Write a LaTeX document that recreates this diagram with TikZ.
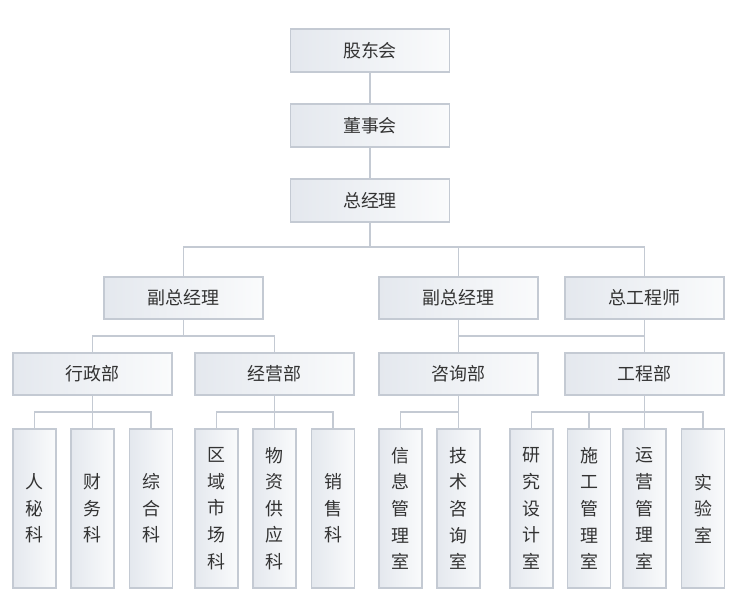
\documentclass[tikz,border=0pt]{standalone}
\usepackage{fontspec}
\newfontfamily\cjk{Noto Sans CJK SC}
\definecolor{boxL}{HTML}{E4E8EE}
\definecolor{boxR}{HTML}{FAFBFC}
\definecolor{edge}{HTML}{C4CAD3}
\definecolor{txt}{HTML}{333333}
\tikzset{
  base/.style={draw=edge, line width=1.2bp, inner sep=0pt, text=txt, left color=boxL, right color=boxR, align=center},
  hbox/.style={base, minimum width=159bp, minimum height=42bp, font=\cjk\fontsize{18}{20}\selectfont},
  vbox/.style={base, minimum width=43bp, minimum height=159bp, font=\cjk\fontsize{18}{26.7}\selectfont},
  conn/.style={draw=edge, line width=1.2bp}
}
\begin{document}
\begin{tikzpicture}[x=1bp,y=-1bp]
\useasboundingbox (0,0) rectangle (741,612);
\fill[white] (0,0) rectangle (741,612);
% level 0-1
\node[hbox, minimum height=43bp] (gd) at (370,50.5) {股东会};
\node[hbox, minimum height=43bp] (ds) at (370,125.5) {董事会};
\node[hbox, minimum height=43bp] (zj) at (370,200.5) {总经理};
% level 2
\node[hbox] (vp1) at (183.5,298) {副总经理};
\node[hbox] (vp2) at (458.5,298) {副总经理};
\node[hbox] (ce) at (644.5,298) {总工程师};
% level 3
\node[hbox] (xz) at (92.5,374) {行政部};
\node[hbox] (jy) at (274.5,374) {经营部};
\node[hbox] (zx) at (458.5,374) {咨询部};
\node[hbox] (gc) at (644.5,374) {工程部};
% level 4
\node[vbox] (rm) at (34.5,508.5) {人\\秘\\科};
\node[vbox] (cw) at (92.5,508.5) {财\\务\\科};
\node[vbox] (zh) at (151,508.5) {综\\合\\科};
\node[vbox] (qy) at (216.5,508.5) {区\\域\\市\\场\\科};
\node[vbox] (wz) at (274.5,508.5) {物\\资\\供\\应\\科};
\node[vbox] (xs) at (333,508.5) {销\\售\\科};
\node[vbox] (xx) at (400.5,508.5) {信\\息\\管\\理\\室};
\node[vbox] (js) at (458.5,508.5) {技\\术\\咨\\询\\室};
\node[vbox] (yj) at (531.5,508.5) {研\\究\\设\\计\\室};
\node[vbox] (sg) at (589,508.5) {施\\工\\管\\理\\室};
\node[vbox] (yy) at (644.5,508.5) {运\\营\\管\\理\\室};
\node[vbox] (sy) at (703,508.5) {实\\验\\室};
% bus lines
\coordinate (b1) at (0,247);
\coordinate (b2) at (0,336);
\coordinate (b3) at (0,412);
\draw[conn] (gd.south) -- (ds.north);
\draw[conn] (ds.south) -- (zj.north);
\draw[conn] (zj.south) -- (zj.south |- b1);
\draw[conn] (vp1.north) |- (ce.north |- b1) -- (ce.north);
\draw[conn] (vp2.north) -- (vp2.north |- b1);
\draw[conn] (vp1.south) -- (vp1.south |- b2);
\draw[conn] (xz.north) |- (jy.north |- b2) -- (jy.north);
\draw[conn] (vp2.south) -- (zx.north);
\draw[conn] (ce.south) -- (gc.north);
\draw[conn] (vp2.south |- b2) -- (ce.south |- b2);
\draw[conn] (xz.south) -- (cw.north);
\draw[conn] (rm.north) |- (zh.north |- b3) -- (zh.north);
\draw[conn] (jy.south) -- (wz.north);
\draw[conn] (qy.north) |- (xs.north |- b3) -- (xs.north);
\draw[conn] (zx.south) -- (js.north);
\draw[conn] (xx.north) |- (js.north |- b3);
\draw[conn] (gc.south) -- (yy.north);
\draw[conn] (yj.north) |- (sy.north |- b3) -- (sy.north);
\draw[conn] (sg.north) -- (sg.north |- b3);
\end{tikzpicture}
\end{document}
